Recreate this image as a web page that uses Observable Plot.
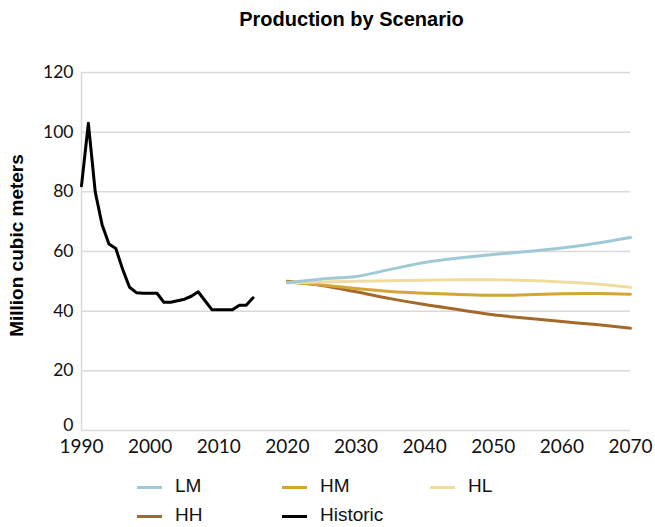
<!DOCTYPE html>
<html>
<head>
<meta charset="utf-8">
<script src="https://cdn.jsdelivr.net/npm/d3@7"></script>
<script src="https://cdn.jsdelivr.net/npm/@observablehq/plot@0.6"></script>
<style>
  body { margin: 0; background: #fff; width: 655px; height: 527px; position: relative; overflow: hidden; }
  #title { position: absolute; left: 0; top: 8px; width: 703px; text-align: center;
           font: bold 20px "Liberation Sans", Arial, sans-serif; color: #000; }
  #chart { position: absolute; left: 0; top: 40px; }
  .leg { position: absolute; font: 19px "Liberation Sans", Arial, sans-serif; color: #111; line-height: 20px; }
  .sw { position: absolute; width: 25px; height: 3px; }
</style>
</head>
<body>
<div id="title">Production by Scenario</div>
<div id="chart"></div>
<div id="legend"></div>
<script>
// Historic production (million cubic meters)
const historicYears = [1990,1991,1992,1993,1994,1995,1996,1997,1998,1999,2000,2001,2002,2003,2004,2005,2006,2007,2008,2009,2010,2011,2012,2013,2014,2015];
const historicValues = [82,103,80,69,62.5,61,54,48,46.2,46,46,46,43,43,43.5,44,45,46.5,43.5,40.5,40.5,40.5,40.5,42,42,44.5];

// Scenario projections
const scenarioYears = [2020,2025,2030,2035,2040,2045,2050,2055,2060,2065,2070];
const lmValues = [49.5,50.8,51.6,54,56.3,57.8,59,60,61.2,62.8,64.7];
const hmValues = [49.8,48.8,47.6,46.6,46,45.6,45.3,45.5,45.8,45.9,45.7];
const hlValues = [49.5,49.8,50,50.2,50.4,50.5,50.5,50.3,49.8,49.1,48];
const hhValues = [50,48.6,46.5,44.2,42.2,40.5,38.8,37.6,36.5,35.5,34.3];

const seriesNames = ["LM","HM","HL","HH","Historic"];
const seriesColors = ["#9fcad5","#d4a434","#f1dc9f","#a3692b","#000000"];

const xTicks = [1990,2000,2010,2020,2030,2040,2050,2060,2070];
const yTicks = [0,20,40,60,80,100,120];
const yLabel = "Million cubic meters";

const color = Object.fromEntries(seriesNames.map((n,i)=>[n, seriesColors[i]]));
const scen = (name, vals) => scenarioYears.map((y,i)=>({year:y, value:vals[i], series:name}));
const hist = historicYears.map((y,i)=>({year:y, value:historicValues[i], series:"Historic"}));
const drawOrder = [["HH",hhValues],["HM",hmValues],["HL",hlValues],["LM",lmValues]];

const plot = Plot.plot({
  width: 655,
  height: 420,
  marginLeft: 81,
  marginRight: 25,
  marginTop: 32,
  marginBottom: 30,
  style: {fontFamily: "Lato, sans-serif", background: "#fff", overflow: "visible"},
  x: {domain: [1990, 2070], label: null},
  y: {domain: [0, 120], label: null},
  marks: [
    Plot.ruleY(yTicks, {stroke: "#d9d9d9", strokeWidth: 1.5}),
    Plot.ruleX([1990], {stroke: "#d9d9d9", strokeWidth: 1.5}),
    Plot.axisX({ticks: xTicks, tickFormat: d => String(d), tickSize: 0, tickPadding: 9, fontSize: 19, label: null, fill: "#111"}),
    Plot.axisY({ticks: yTicks.filter(d => d > 0), tickSize: 0, tickPadding: 8, fontSize: 17.5, label: null, fill: "#111"}),
    Plot.axisY({ticks: yTicks.filter(d => d === 0), tickSize: 0, tickPadding: 8, fontSize: 17.5, label: null, fill: "#111", dy: -5}),
    ...drawOrder.map(([n, v]) => Plot.line(scen(n, v), {x: "year", y: "value", stroke: color[n], strokeWidth: 3, curve: "monotone-x"})),
    Plot.line(hist, {x: "year", y: "value", stroke: color.Historic, strokeWidth: 3, strokeLinejoin: "round"}),
    Plot.text([yLabel], {frameAnchor: "left", textAnchor: "middle", rotate: -90, dx: -65, dy: -6, fontWeight: "bold", fontSize: 19, fontFamily: "Liberation Sans, Arial, sans-serif", fill: "#000"})
  ]
});
document.getElementById("chart").appendChild(plot);

// Legend (HTML, below the chart)
const legendPos = {
  LM: [137, 487], HM: [282, 487], HL: [430, 487],
  HH: [137, 516], Historic: [282, 516]
};
const legend = document.getElementById("legend");
seriesNames.forEach(n => {
  const [x, y] = legendPos[n];
  const sw = document.createElement("div");
  sw.className = "sw";
  sw.style.left = x + "px"; sw.style.top = (y - 1.5) + "px";
  sw.style.background = color[n];
  legend.appendChild(sw);
  const t = document.createElement("div");
  t.className = "leg";
  t.textContent = n;
  t.style.left = (x + 38) + "px"; t.style.top = (y - 11) + "px";
  legend.appendChild(t);
});
</script>
</body>
</html>
